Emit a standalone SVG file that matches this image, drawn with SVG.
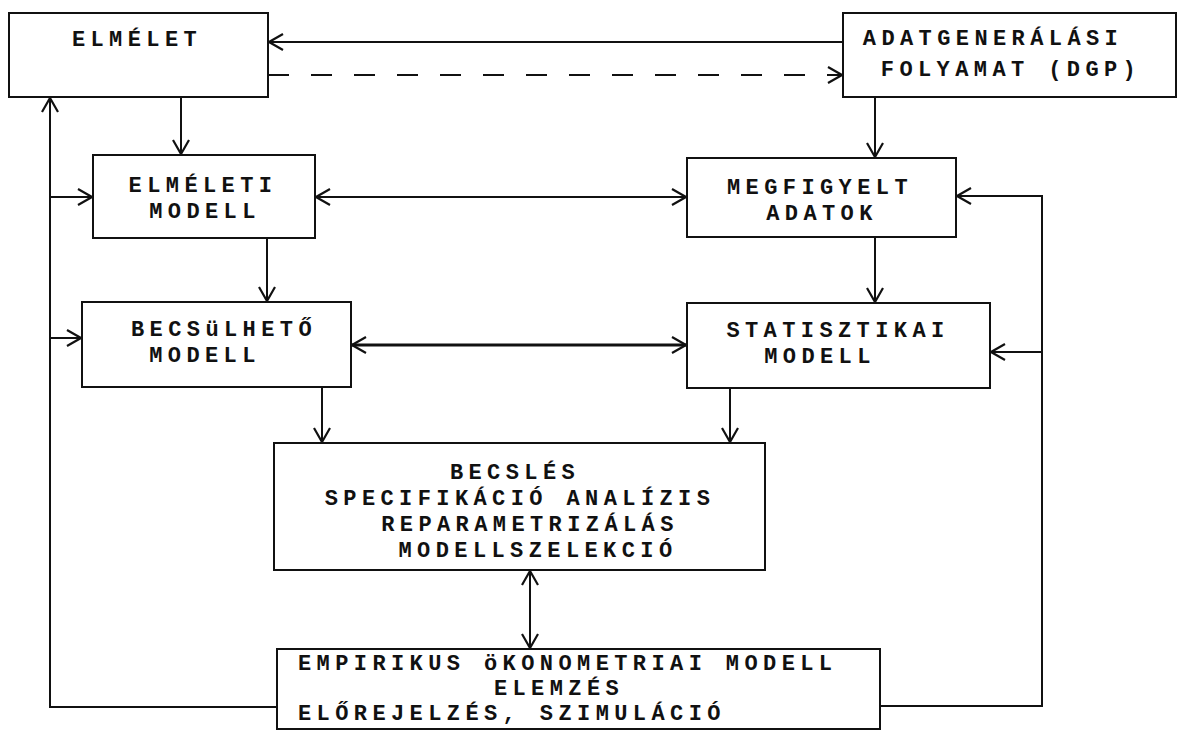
<svg xmlns="http://www.w3.org/2000/svg" width="1178" height="732" viewBox="0 0 1178 732">
<defs>
<style>
.box{fill:#fff;stroke:#111;stroke-width:2}
.t{font-family:"Liberation Mono","DejaVu Sans Mono",monospace;font-size:22px;font-weight:bold;fill:#111;letter-spacing:5.4px}
.c{text-anchor:middle}
.ln{fill:none;stroke:#111;stroke-width:2}
.thick{stroke-width:3}
.dash{stroke-dasharray:21 22}
</style>
<marker id="ah" viewBox="0 0 16 18" refX="15" refY="9" markerWidth="16" markerHeight="18" markerUnits="userSpaceOnUse" orient="auto-start-reverse">
<path d="M1,1 L15,9 L1,17" fill="none" stroke="#111" stroke-width="2.2"/>
</marker>
</defs>
<rect width="1178" height="732" fill="#fff"/>
<g id="connectors">
<line class="ln" x1="843" y1="42" x2="269" y2="42" stroke-width="2.5" marker-end="url(#ah)"/>
<line class="ln dash" x1="268" y1="75" x2="842" y2="75" marker-end="url(#ah)"/>
<line class="ln" x1="181" y1="97" x2="181" y2="154" marker-end="url(#ah)"/>
<polyline class="ln" points="277,707 50,707 50,98" marker-end="url(#ah)"/>
<line class="ln" x1="50" y1="197" x2="92" y2="197" marker-end="url(#ah)"/>
<line class="ln" x1="50" y1="338" x2="81" y2="338" marker-end="url(#ah)"/>
<line class="ln" x1="316" y1="197" x2="686" y2="197" marker-start="url(#ah)" marker-end="url(#ah)"/>
<line class="ln" x1="875" y1="97" x2="875" y2="157" marker-end="url(#ah)"/>
<line class="ln" x1="267" y1="238" x2="267" y2="301" marker-end="url(#ah)"/>
<line class="ln" x1="875" y1="237" x2="875" y2="302" marker-end="url(#ah)"/>
<line class="ln thick" x1="352" y1="345" x2="686" y2="345" marker-start="url(#ah)" marker-end="url(#ah)"/>
<polyline class="ln" points="880,706 1042,706 1042,196 957,196" marker-end="url(#ah)"/>
<line class="ln" x1="1042" y1="352" x2="991" y2="352" marker-end="url(#ah)"/>
<line class="ln" x1="322" y1="387" x2="322" y2="442" marker-end="url(#ah)"/>
<line class="ln" x1="730" y1="388" x2="730" y2="442" stroke-width="2.5" marker-end="url(#ah)"/>
<line class="ln" x1="530" y1="571" x2="530" y2="648" marker-start="url(#ah)" marker-end="url(#ah)"/>
</g>
<g id="elmelet">
<rect class="box" x="9" y="13" width="259" height="84"/>
<text class="t c" x="137" y="46">ELMÉLET</text>
</g>
<g id="dgp">
<rect class="box" x="843" y="13" width="333" height="84"/>
<text class="t c" x="993" y="45">ADATGENERÁLÁSI</text>
<text class="t c" x="1011" y="76">FOLYAMAT (DGP)</text>
</g>
<g id="elmeleti-modell">
<rect class="box" x="93" y="155" width="222" height="83"/>
<text class="t c" x="203" y="192">ELMÉLETI</text>
<text class="t c" x="205" y="218">MODELL</text>
</g>
<g id="megfigyelt-adatok">
<rect class="box" x="687" y="158" width="269" height="79"/>
<text class="t c" x="820" y="194">MEGFIGYELT</text>
<text class="t c" x="822" y="220">ADATOK</text>
</g>
<g id="becsulheto-modell">
<rect class="box" x="82" y="302" width="269" height="85"/>
<text class="t c" x="224" y="336">BECSüLHETŐ</text>
<text class="t c" x="205" y="362">MODELL</text>
</g>
<g id="statisztikai-modell">
<rect class="box" x="687" y="303" width="303" height="85"/>
<text class="t c" x="838" y="337">STATISZTIKAI</text>
<text class="t c" x="820" y="363">MODELL</text>
</g>
<g id="becsles">
<rect class="box" x="274" y="443" width="491" height="127"/>
<text class="t c" x="515" y="479">BECSLÉS</text>
<text class="t c" x="520" y="505">SPECIFIKÁCIÓ ANALÍZIS</text>
<text class="t c" x="530" y="531">REPARAMETRIZÁLÁS</text>
<text class="t c" x="538" y="557">MODELLSZELEKCIÓ</text>
</g>
<g id="empirikus">
<rect class="box" x="277" y="649" width="603" height="80"/>
<text class="t" x="298" y="670">EMPIRIKUS öKONOMETRIAI MODELL</text>
<text class="t c" x="559" y="695">ELEMZÉS</text>
<text class="t" x="298" y="720">ELŐREJELZÉS, SZIMULÁCIÓ</text>
</g>
</svg>
